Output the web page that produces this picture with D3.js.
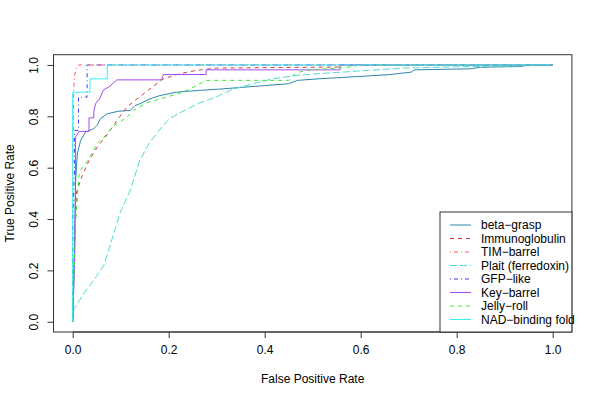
<!DOCTYPE html>
<meta charset="utf-8">
<style>
body { margin: 0; background: #fff; }
text { font-family: "Liberation Sans", Arial, sans-serif; font-size: 12px; fill: #000; }
.curve { fill: none; stroke-width: 1; }
</style>
<svg width="600" height="400"></svg>
<script src="https://d3js.org/d3.v7.min.js"></script>
<script>

// ROC curves, [false positive rate, true positive rate]
var betaGrasp = [[0,0],[0.004,0.3],[0.006,0.55],[0.0097,0.654],[0.0165,0.706],[0.027,0.739],[0.044,0.752],
  [0.051,0.765],[0.058,0.791],[0.072,0.81],[0.096,0.82],[0.12,0.823],[0.13,0.842],[0.14,0.849],[0.161,0.868],
  [0.182,0.881],[0.216,0.894],[0.264,0.901],[0.306,0.906],[0.402,0.92],[0.45,0.927],[0.468,0.94],[0.512,0.946],
  [0.595,0.955],[0.657,0.962],[0.705,0.972],[0.712,0.981],[0.829,0.985],[0.85,0.991],[0.932,0.994],[0.952,1],[1,1]];
var immunoglobulin = [[0,0],[0.004,0.3],[0.008,0.505],[0.02,0.57],[0.034,0.628],[0.051,0.68],[0.072,0.729],
  [0.092,0.784],[0.113,0.836],[0.134,0.868],[0.161,0.907],[0.189,0.946],[0.223,0.966],[0.258,0.979],
  [0.3,0.988],[0.557,0.992],[0.557,1],[1,1]];
var timBarrel = [[0,0],[0,0.6],[0.002,0.9],[0.004,0.96],[0.008,0.99],[0.012,1],[1,1]];
var plait = [[0,0],[0.003,0.051],[0.0097,0.07],[0.023,0.11],[0.044,0.162],[0.065,0.22],[0.079,0.304],
  [0.099,0.425],[0.12,0.512],[0.14,0.63],[0.161,0.7],[0.182,0.75],[0.202,0.792],[0.233,0.823],[0.264,0.852],
  [0.299,0.875],[0.333,0.905],[0.37,0.924],[0.416,0.946],[0.464,0.959],[0.512,0.966],[0.56,0.972],
  [0.616,0.979],[0.692,0.988],[0.8,0.993],[0.93,0.996],[0.97,1],[1,1]];
var gfpLike = [[0,0],[0,0.4],[0.004,0.6],[0.004,0.745],[0.012,0.745],[0.012,0.875],[0.03,0.875],[0.03,1],[1,1]];
var keyBarrel = [[0,0],[0.004,0.24],[0.006,0.551],[0.006,0.719],[0.013,0.741],[0.034,0.741],[0.034,0.794],
  [0.044,0.794],[0.044,0.817],[0.0475,0.849],[0.056,0.868],[0.064,0.903],[0.075,0.914],[0.092,0.942],
  [0.185,0.942],[0.189,0.963],[0.278,0.963],[0.278,0.981],[0.557,0.981],[0.557,1],[1,1]];
var jellyRoll = [[0,0],[0.006,0.39],[0.0097,0.486],[0.013,0.57],[0.02,0.6],[0.034,0.635],[0.051,0.695],
  [0.065,0.719],[0.085,0.762],[0.113,0.797],[0.127,0.823],[0.154,0.853],[0.196,0.875],[0.23,0.894],
  [0.258,0.92],[0.278,0.94],[0.45,0.94],[0.464,0.968],[0.485,0.979],[0.568,0.99],[0.6,1],[1,1]];
var nadBinding = [[0,0],[0,0.894],[0.036,0.894],[0.036,0.946],[0.072,0.946],[0.072,1],[1,1]];

var names = ["beta\u2212grasp", "Immunoglobulin", "TIM\u2212barrel", "Plait (ferredoxin)",
  "GFP\u2212like", "Key\u2212barrel", "Jelly\u2212roll", "NAD\u2212binding fold"];
var series = [betaGrasp, immunoglobulin, timBarrel, plait, gfpLike, keyBarrel, jellyRoll, nadBinding];
var colors = ["#2f86ad", "#d23c3c", "#ff5a5a", "#4fdcd4", "#3c3cff", "#a44cf2", "#33ee33", "#33f0f4"];
var dashes = [null, "4,4", "1,3,4,3", "7,3", "1,3,4,3", null, "4,4", null];
var ticks = [0, 0.2, 0.4, 0.6, 0.8, 1.0];

var svg = d3.select("svg");

var x = d3.scaleLinear().domain([-0.04, 1.04]).range([53.5, 571.9]),
    y = d3.scaleLinear().domain([-0.04, 1.04]).range([332, 54.7]);

var line = d3.line()
    .x(function(d) { return x(d[0]); })
    .y(function(d) { return y(d[1]); });

// curves
svg.selectAll(".curve")
  .data(series)
  .enter().append("path")
    .attr("class", "curve")
    .attr("d", line)
    .attr("stroke", function(d, i) { return colors[i]; })
    .attr("stroke-dasharray", function(d, i) { return dashes[i]; });

// axes
var xAxis = d3.axisBottom(x).tickValues(ticks).tickFormat(d3.format(".1f")).tickSize(6).tickPadding(7);
var yAxis = d3.axisLeft(y).tickValues(ticks).tickFormat(d3.format(".1f")).tickSize(6).tickPadding(7);

var gx = svg.append("g").attr("transform", "translate(0,332)").call(xAxis);
var gy = svg.append("g").attr("transform", "translate(53.5,0)").call(yAxis);

[gx, gy].forEach(function(g) {
  g.select(".domain").attr("d", null).remove();
  g.selectAll("line").attr("stroke", "#333");
  g.selectAll("text").attr("font-size", 12).attr("font-family", "Liberation Sans, Arial, sans-serif");
});

// axis lines only between first and last tick
gx.append("line").attr("x1", x(0)).attr("x2", x(1)).attr("stroke", "#333");
gy.append("line").attr("y1", y(0)).attr("y2", y(1)).attr("stroke", "#333");

// rotate y tick labels like R
gy.selectAll(".tick text")
    .attr("text-anchor", "middle")
    .attr("x", null).attr("dy", null)
    .attr("transform", "translate(-16,0) rotate(-90)")
    .attr("y", 0);

// plot box
svg.append("rect")
    .attr("x", 53.5).attr("y", 54.7)
    .attr("width", 571.9 - 53.5).attr("height", 332 - 54.7)
    .attr("fill", "none").attr("stroke", "#333");

// titles
svg.append("text")
    .attr("x", x(0.5)).attr("y", 383)
    .attr("text-anchor", "middle")
    .text("False Positive Rate");

svg.append("text")
    .attr("transform", "translate(14," + y(0.5) + ") rotate(-90)")
    .attr("text-anchor", "middle")
    .text("True Positive Rate");

// legend
var legend = svg.append("g");
legend.append("rect")
    .attr("x", 440).attr("y", 212)
    .attr("width", 571.9 - 440).attr("height", 332 - 212)
    .attr("fill", "#fff").attr("stroke", "#333");

var item = legend.selectAll(".item")
  .data(names)
  .enter().append("g")
    .attr("transform", function(d, i) { return "translate(0," + (225 + i * 13.5) + ")"; });

item.append("line")
    .attr("x1", 450).attr("x2", 471)
    .attr("stroke", function(d, i) { return colors[i]; })
    .attr("stroke-dasharray", function(d, i) { return dashes[i]; });

item.append("text")
    .attr("x", 481).attr("dy", "0.35em")
    .text(function(d) { return d; });

</script>
